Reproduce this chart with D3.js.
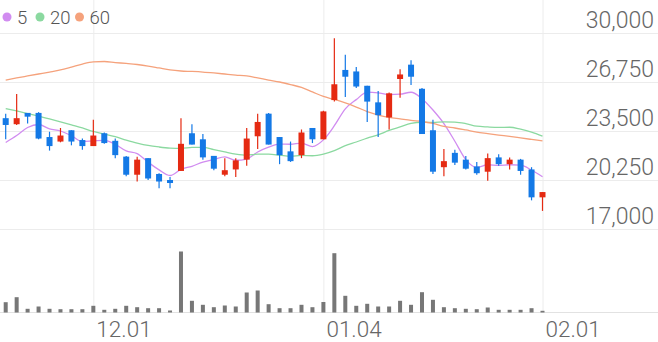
<!DOCTYPE html>
<html>
<head>
<meta charset="utf-8">
<script src="https://cdn.jsdelivr.net/npm/d3@7"></script>
<style>
  body { margin: 0; background: #fff; }
  svg { display: block; font-family: Roboto, 'Noto Sans', sans-serif; }
</style>
</head>
<body>
<div id="chart"></div>
<script>
/*** DATA ***/
var dates = ['2020-11-19','2020-11-20','2020-11-23','2020-11-24','2020-11-25','2020-11-26','2020-11-27','2020-11-30',
  '2020-12-01','2020-12-02','2020-12-03','2020-12-04','2020-12-07','2020-12-08','2020-12-09','2020-12-10','2020-12-11',
  '2020-12-14','2020-12-15','2020-12-16','2020-12-17','2020-12-18','2020-12-21','2020-12-22','2020-12-23','2020-12-24',
  '2020-12-28','2020-12-29','2020-12-30','2021-01-04','2021-01-05','2021-01-06','2021-01-07','2021-01-08','2021-01-11',
  '2021-01-12','2021-01-13','2021-01-14','2021-01-15','2021-01-18','2021-01-19','2021-01-20','2021-01-21','2021-01-22',
  '2021-01-25','2021-01-26','2021-01-27','2021-01-28','2021-01-29','2021-02-01'];

var openPrices = [24350, 23950, 24700, 24700, 23100, 22800, 23550, 22900, 22500, 23350, 22850, 21800, 20600, 21700, 20650, 20250, 20850, 23350, 22950, 21850,
  20600, 20950, 21600, 23150, 24650, 23100, 22150, 21900, 23700, 22950, 25550, 27550, 27450, 26500, 25400, 24400, 26950, 27900, 26300, 23550,
  21100, 22050, 21600, 21150, 20800, 21750, 21300, 21600, 20950, 19100];
var highPrices = [24650, 25950, 24700, 24750, 23450, 23700, 23550, 23000, 24250, 23400, 23000, 21850, 21800, 21700, 20700, 20450, 24350, 23950, 23300, 21850,
  21700, 21700, 23700, 24650, 24700, 23100, 22800, 23600, 23700, 24850, 29650, 28550, 27750, 26500, 26150, 26050, 27600, 28200, 26350, 24250,
  22300, 22250, 21850, 21450, 22000, 21950, 21750, 21650, 21100, 19450];
var lowPrices = [22950, 23900, 24000, 22950, 22200, 22750, 22550, 22250, 22500, 22650, 21700, 20500, 20150, 20250, 19700, 19700, 20850, 22600, 21600, 20900,
  20500, 20450, 21200, 22300, 22600, 21300, 21450, 21700, 22700, 22950, 25450, 25750, 26350, 24100, 23100, 23600, 25700, 26550, 23300, 20650,
  20500, 21250, 20950, 20600, 20200, 21200, 20950, 20600, 18900, 18200];
var closePrices = [23900, 24350, 24450, 23000, 22500, 23200, 22800, 22500, 23200, 22700, 21900, 20600, 21600, 20350, 20150, 20050, 22650, 22600, 21750, 21000,
  20900, 21550, 23000, 24100, 22600, 21900, 21500, 23400, 22950, 24800, 26600, 27100, 26450, 25450, 24550, 26000, 27250, 27100, 23300, 20800,
  21500, 21400, 21000, 20700, 21700, 21300, 21600, 20850, 19100, 19450];

//volume, thousand shares
var volumes = [103, 153, 37, 60, 37, 33, 33, 33, 67, 27, 37, 67, 53, 43, 43, 20, 610, 117, 77, 53,
  70, 60, 200, 220, 83, 43, 43, 77, 53, 105, 593, 167, 67, 87, 60, 60, 117, 77, 203, 127,
  53, 43, 37, 33, 50, 27, 27, 27, 43, 17];

//moving averages as drawn
var ma5 = [22740, 23200, 23730, 23930, 23640, 23500, 23190, 22800, 22840, 22880, 22620, 22180, 22000, 21430, 20920, 20550, 20960, 21160, 21440, 21610,
  21780, 21560, 21640, 22110, 22430, 22630, 22620, 22700, 22470, 22910, 23850, 24970, 25580, 26080, 26030, 25910, 25940, 26070, 25640, 24890,
  23990, 22820, 21600, 21080, 21260, 21220, 21260, 21230, 20910, 20460];
var ma20 = [24990, 24830, 24660, 24490, 24300, 24100, 23900, 23700, 23470, 23300, 23120, 22900, 22700, 22540, 22440, 22370, 22350, 22410, 22420, 22260,
  22110, 21970, 21900, 21960, 21960, 21900, 21830, 21880, 21860, 21970, 22200, 22530, 22770, 23030, 23250, 23540, 23770, 24000, 24080, 24070,
  24100, 24090, 23990, 23820, 23770, 23740, 23750, 23620, 23430, 23160];
var ma60 = [26880, 27020, 27150, 27280, 27410, 27550, 27740, 27940, 28080, 28110, 28040, 27980, 27910, 27810, 27680, 27550, 27480, 27450, 27410, 27350,
  27280, 27210, 27150, 27020, 26880, 26750, 26580, 26390, 26090, 25790, 25590, 25360, 25090, 24790, 24560, 24400, 24300, 24200, 24130, 24000,
  23800, 23700, 23570, 23430, 23330, 23230, 23140, 23040, 22940, 22840];

var priceTicks = [17000, 20250, 23500, 26750, 30000];
var dateTicks = ['2020-12-01', '2021-01-04', '2021-02-01'];
var maLabels = ['5', '20', '60'];

/*** SETUP ***/
var width = 658, height = 342;
var colorUp = '#e52a12', colorDown = '#1479e6', colorVolume = '#777';
var maColors = ['#d18cf0', '#8bd9a0', '#f5a27c'];
var maSeries = [ma5, ma20, ma60];

var svg = d3.select('#chart').append('svg')
  .attr('width', width)
  .attr('height', height);

var x = d3.scalePoint().domain(dates).range([5.7, 542.5]);
var y = d3.scaleLinear().domain([17000, 30000]).range([229, 33]);
var yVol = d3.scaleLinear().domain([0, d3.max(volumes)]).range([312.5, 251.5]);

//grid lines + price labels
var yAxis = d3.axisRight(y)
  .tickValues(priceTicks)
  .tickSize(width)
  .tickFormat(d3.format(','));

var gy = svg.append('g').call(yAxis);
gy.select('.domain').remove();
gy.selectAll('.tick line').attr('stroke', '#ececec');
gy.selectAll('.tick text')
  .attr('x', 654)
  .attr('dy', -6)
  .attr('text-anchor', 'end')
  .attr('fill', '#666')
  .attr('font-size', 23)
  .attr('font-weight', 300)
  .attr('font-family', 'Roboto');

//date grid lines + labels
var xAxis = d3.axisBottom(x)
  .tickValues(dateTicks)
  .tickSize(312.5)
  .tickFormat(function(d) { return d.slice(5).replace('-', '.'); });

var gx = svg.append('g').call(xAxis);
gx.select('.domain').remove();
gx.selectAll('.tick line').attr('stroke', '#ececec');
gx.selectAll('.tick text')
  .attr('y', 336.5)
  .attr('dy', 0)
  .attr('x', 2.5)
  .attr('text-anchor', 'start')
  .attr('fill', '#666')
  .attr('font-size', 22.5)
  .attr('font-weight', 300)
  .attr('font-family', 'Roboto');

//volume baseline
svg.append('line')
  .attr('x1', 0).attr('x2', width)
  .attr('y1', yVol(0)).attr('y2', yVol(0))
  .attr('stroke', '#e2e2e2');

//volume bars
svg.append('g').selectAll('rect')
  .data(volumes)
  .join('rect')
  .attr('x', function(d, i) { return x(dates[i]) - 2; })
  .attr('y', function(d) { return yVol(d); })
  .attr('width', 4)
  .attr('height', function(d) { return yVol(0) - yVol(d); })
  .attr('fill', colorVolume);

//moving average lines
var line = d3.line()
  .x(function(d, i) { return x(dates[i]); })
  .y(function(d) { return y(d); })
  .curve(d3.curveMonotoneX);

maSeries.forEach(function(series, k) {
  svg.append('path')
    .datum(series)
    .attr('d', line)
    .attr('fill', 'none')
    .attr('stroke', maColors[k])
    .attr('stroke-width', 1.3);
});

//candles
var candles = svg.append('g').selectAll('g')
  .data(dates)
  .join('g')
  .attr('fill', function(d, i) { return closePrices[i] >= openPrices[i] ? colorUp : colorDown; })
  .attr('stroke', function(d, i) { return closePrices[i] >= openPrices[i] ? colorUp : colorDown; });

candles.append('line')
  .attr('x1', function(d) { return x(d); })
  .attr('x2', function(d) { return x(d); })
  .attr('y1', function(d, i) { return y(highPrices[i]); })
  .attr('y2', function(d, i) { return y(lowPrices[i]); })
  .attr('stroke-width', 1.2);

candles.append('rect')
  .attr('x', function(d) { return x(d) - 3; })
  .attr('y', function(d, i) { return y(Math.max(openPrices[i], closePrices[i])); })
  .attr('width', 6)
  .attr('height', function(d, i) { return Math.max(1, Math.abs(y(openPrices[i]) - y(closePrices[i]))); })
  .attr('stroke', 'none');

//legend
var legend = svg.append('g').attr('transform', 'translate(7,17)');
var legendX = [0, 33, 72.5];
maLabels.forEach(function(label, k) {
  legend.append('circle')
    .attr('cx', legendX[k])
    .attr('cy', 0)
    .attr('r', 4.5)
    .attr('fill', maColors[k]);
  legend.append('text')
    .attr('x', legendX[k] + 10)
    .attr('y', 6.5)
    .attr('fill', '#555')
    .attr('font-size', 18.5)
    .attr('font-weight', 300)
    .text(label);
});
</script>
</body>
</html>
